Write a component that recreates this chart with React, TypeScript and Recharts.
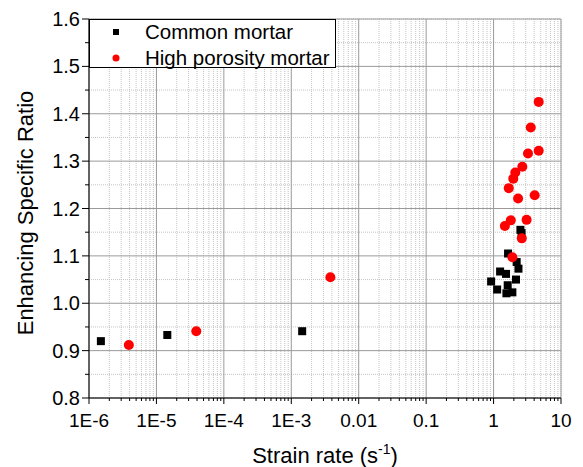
import React from 'react';
import { ScatterChart, Scatter, XAxis, YAxis, CartesianGrid, Legend } from 'recharts';

const FONT = '"Liberation Sans", Arial, sans-serif';

// strain rate (1/s) and enhancing ratio
const commonRate = [1.5e-6, 1.45e-5, 1.45e-3, 2.5, 2.6, 1.64, 2.2, 2.34, 1.25, 1.53, 2.15, 0.92, 1.13, 1.62, 1.55, 1.9];
const commonRatio = [0.92, 0.933, 0.941, 1.155, 1.148, 1.105, 1.087, 1.073, 1.067, 1.062, 1.05, 1.046, 1.029, 1.038, 1.021, 1.023];

const porousRate = [3.9e-6, 3.9e-5, 3.8e-3, 4.67, 3.56, 3.24, 4.67, 2.67, 2.1, 1.96, 1.68, 2.31, 4.07, 3.09, 1.8, 1.47, 2.62, 1.9];
const porousRatio = [0.912, 0.941, 1.055, 1.425, 1.371, 1.316, 1.322, 1.288, 1.276, 1.263, 1.243, 1.221, 1.228, 1.176, 1.175, 1.163, 1.137, 1.097];

const xMajor = [1e-6, 1e-5, 1e-4, 1e-3, 0.01, 0.1, 1, 10];
const xLabels = ['1E-6', '1E-5', '1E-4', '1E-3', '0.01', '0.1', '1', '10'];
const yMajor = [0.8, 0.9, 1.0, 1.1, 1.2, 1.3, 1.4, 1.5, 1.6];
const yLabels = ['0.8', '0.9', '1.0', '1.1', '1.2', '1.3', '1.4', '1.5', '1.6'];

const seriesNames = ['Common mortar', 'High porosity mortar'];

const commonData = commonRate.map((r, i) => ({ rate: r, ratio: commonRatio[i] }));
const porousData = porousRate.map((r, i) => ({ rate: r, ratio: porousRatio[i] }));

// minor tick positions: 2..9 inside each decade, half steps on y
const xMinor: number[] = [];
xMajor.slice(0, -1).forEach((m) => {
  for (let k = 2; k <= 9; k++) xMinor.push(m * k);
});
const yMinor = yMajor.slice(0, -1).map((v) => Math.round((v + 0.05) * 100) / 100);
const xTicks = [...xMajor, ...xMinor].sort((a, b) => a - b);
const yTicks = [...yMajor, ...yMinor].sort((a, b) => a - b);

const xDomain = [1e-6, 10];
const yDomain = [0.8, 1.6];

const xIndex = (v: number) => xMajor.findIndex((m) => Math.abs(Math.log10(v) - Math.log10(m)) < 1e-6);
const yIndex = (v: number) => yMajor.findIndex((m) => Math.abs(v - m) < 1e-6);

const BottomTick = (props: any) => {
  const { x, y, payload } = props;
  const i = xIndex(payload.value);
  return (
    <g>
      <line x1={x} y1={y} x2={x} y2={y + (i >= 0 ? 6 : 3)} stroke="#000" />
      {i >= 0 && (
        <text x={x} y={y + 29} textAnchor="middle" fontSize={19} fontFamily={FONT} fill="#000">
          {xLabels[i]}
        </text>
      )}
    </g>
  );
};

const TopTick = (props: any) => {
  const { x, y, payload } = props;
  const i = xIndex(payload.value);
  return <line x1={x} y1={y} x2={x} y2={y + (i >= 0 ? 6 : 3)} stroke="#000" />;
};

const LeftTick = (props: any) => {
  const { x, y, payload } = props;
  const i = yIndex(payload.value);
  return (
    <g>
      <line x1={x} y1={y} x2={x - (i >= 0 ? 7 : 4)} y2={y} stroke="#000" />
      {i >= 0 && (
        <text x={x - 9} y={y + 7} textAnchor="end" fontSize={20} fontFamily={FONT} fill="#000">
          {yLabels[i]}
        </text>
      )}
    </g>
  );
};

const RightTick = (props: any) => {
  const { x, y, payload } = props;
  const i = yIndex(payload.value);
  return <line x1={x} y1={y} x2={x - (i >= 0 ? 6 : 3)} y2={y} stroke="#000" />;
};

const Square = (p: any) => <rect x={p.cx - 4} y={p.cy - 4} width={8} height={8} fill="#000" />;
const Dot = (p: any) => <circle cx={p.cx} cy={p.cy} r={5} fill="#ff0000" />;
const Nothing = () => <g />;

const LegendBox = () => (
  <svg width={245} height={47} style={{ display: 'block', overflow: 'visible' }}>
    <rect x={23} y={9} width={6} height={6} fill="#000" />
    <text x={55} y={19} fontSize={20.5} fontFamily={FONT} fill="#000">
      {seriesNames[0]}
    </text>
    <circle cx={26} cy={38} r={3.5} fill="#ff0000" />
    <text x={55} y={45} fontSize={20.5} fontFamily={FONT} fill="#000">
      {seriesNames[1]}
    </text>
  </svg>
);

const axisCommon = { type: 'number' as const, allowDataOverflow: true, interval: 0 as const };

export default function App() {
  return (
    <ScatterChart width={575} height={459} margin={{ top: 11, right: 22, bottom: 0, left: 0 }}>
      {/* hidden axes that only carry gridline positions */}
      <XAxis xAxisId="xmin" hide dataKey="rate" scale="log" domain={xDomain} ticks={xMinor} {...axisCommon} />
      <XAxis xAxisId="xmaj" hide dataKey="rate" scale="log" domain={xDomain} ticks={xMajor} {...axisCommon} />
      <YAxis yAxisId="ymin" hide dataKey="ratio" domain={yDomain} ticks={yMinor} {...axisCommon} />
      <YAxis yAxisId="ymaj" hide dataKey="ratio" domain={yDomain} ticks={yMajor} {...axisCommon} />
      <CartesianGrid xAxisId="xmin" yAxisId="ymin" stroke="#c4c4c4" strokeDasharray="1 1" />
      <CartesianGrid xAxisId="xmaj" yAxisId="ymaj" stroke="#9a9a9a" />
      <XAxis
        dataKey="rate"
        scale="log"
        domain={xDomain}
        ticks={xTicks}
        height={69}
        tickSize={0}
        tickMargin={0}
        tickLine={false}
        tick={BottomTick}
        axisLine={{ stroke: '#000' }}
        {...axisCommon}
      />
      <XAxis
        xAxisId="top"
        orientation="top"
        dataKey="rate"
        scale="log"
        domain={xDomain}
        ticks={xTicks}
        height={0}
        tickSize={0}
        tickMargin={0}
        tickLine={false}
        tick={TopTick}
        axisLine={{ stroke: '#000' }}
        {...axisCommon}
      />
      <YAxis
        dataKey="ratio"
        domain={yDomain}
        ticks={yTicks}
        width={81}
        tickSize={0}
        tickMargin={0}
        tickLine={false}
        tick={LeftTick}
        axisLine={{ stroke: '#000' }}
        {...axisCommon}
      />
      <YAxis
        yAxisId="right"
        orientation="right"
        dataKey="ratio"
        domain={yDomain}
        ticks={yTicks}
        width={0}
        tickSize={0}
        tickMargin={0}
        tickLine={false}
        tick={RightTick}
        axisLine={{ stroke: '#000' }}
        {...axisCommon}
      />
      {/* invisible series so the helper axes get a log scale */}
      <Scatter xAxisId="xmin" yAxisId="ymin" data={commonData} shape={Nothing} isAnimationActive={false} legendType="none" />
      <Scatter xAxisId="xmaj" yAxisId="ymaj" data={commonData} shape={Nothing} isAnimationActive={false} legendType="none" />
      <Scatter xAxisId="top" yAxisId="right" data={commonData} shape={Nothing} isAnimationActive={false} legendType="none" />
      <Scatter name={seriesNames[0]} data={commonData} shape={Square} isAnimationActive={false} />
      <Scatter name={seriesNames[1]} data={porousData} shape={Dot} isAnimationActive={false} />
      <Legend
        layout="vertical"
        align="center"
        verticalAlign="middle"
        wrapperStyle={{
          top: 11,
          left: 81,
          width: 247,
          height: 49,
          border: '1px solid #000',
          background: '#fff',
          boxSizing: 'border-box',
        }}
        content={() => <LegendBox />}
      />
      <text x={317} y={455} textAnchor="middle" fontSize={22} fontFamily={FONT} fill="#000">
        Strain rate (s
        <tspan dy={-9} fontSize={14}>-1</tspan>
        <tspan dy={9}>)</tspan>
      </text>
      <text
        transform="rotate(-90)"
        x={-205}
        y={25}
        textAnchor="middle"
        fontSize={22}
        fontFamily={FONT}
        fill="#000"
      >
        Enhancing Specific Ratio
      </text>
    </ScatterChart>
  );
}
